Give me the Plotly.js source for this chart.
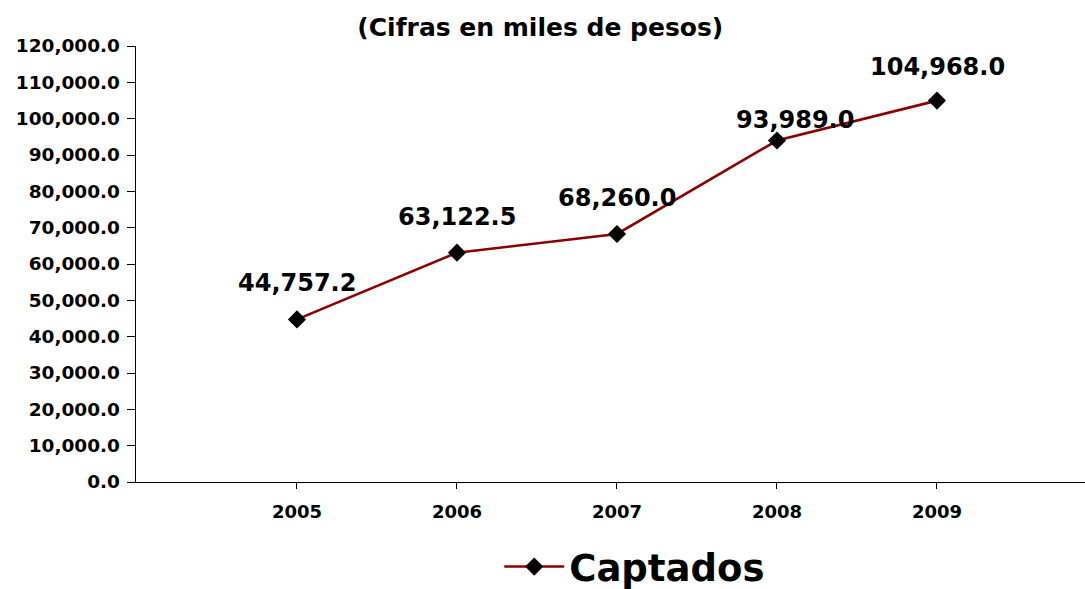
<!DOCTYPE html>
<html>
<head>
<meta charset="utf-8">
<script src="https://cdn.plot.ly/plotly-3.0.1.min.js"></script>
<style>html,body{margin:0;padding:0;background:#fff;}#chart{width:1085px;height:589px;}</style>
</head>
<body>
<div id="chart"></div>
<script>
const years = ['2005', '2006', '2007', '2008', '2009'];
const captados = [44757.2, 63122.5, 68260.0, 93989.0, 104968.0];
const labelText = ['44,757.2', '63,122.5', '68,260.0', '93,989.0', '104,968.0'];
const yTicks = [0, 10000, 20000, 30000, 40000, 50000, 60000, 70000, 80000, 90000, 100000, 110000, 120000];
const labelDx = [0, 0, 0, 18, 1];
const labelDy = [36, 36, 36, 21, 34];

const FONT = 'DejaVu Sans, Verdana, sans-serif';

const trace = {
  x: years.map((_, i) => i),
  y: captados,
  type: 'scatter',
  mode: 'lines+markers',
  name: '<b>Captados</b>',
  line: {color: '#8B0000', width: 2.6},
  marker: {symbol: 'diamond', size: 14, color: '#000000', line: {width: 0}},
  hoverinfo: 'skip'
};

const annotations = captados.map((v, i) => ({
  x: i, y: v, xref: 'x', yref: 'y',
  text: '<b>' + labelText[i] + '</b>',
  showarrow: false,
  xshift: labelDx[i], yshift: labelDy[i],
  font: {family: FONT, size: 24, color: '#000'}
}));

const layout = {
  width: 1085, height: 589,
  margin: {l: 136, r: 0, t: 46, b: 107},
  paper_bgcolor: '#fff', plot_bgcolor: '#fff',
  title: {
    text: '<b>(Cifras en miles de pesos)</b>',
    font: {family: FONT, size: 25, color: '#000'},
    x: 0.498, xref: 'container', xanchor: 'center',
    y: 1 - 27/589, yref: 'container', yanchor: 'middle'
  },
  showlegend: true,
  legend: {
    orientation: 'h',
    xref: 'container', yref: 'container',
    x: 0.585, xanchor: 'center', y: 1 - 567/589, yanchor: 'middle',
    font: {family: FONT, size: 37, color: '#000'},
    itemwidth: 60,
    bgcolor: 'rgba(0,0,0,0)'
  },
  xaxis: {
    type: 'linear',
    range: [-1.006, 4.925],
    tickvals: years.map((_, i) => i),
    ticktext: years.map(y => '<b>' + y + '</b>'),
    ticks: 'outside', ticklen: 6, tickcolor: '#000', tickwidth: 1,
    showline: true, linecolor: '#000', linewidth: 1.3,
    showgrid: false, zeroline: false,
    tickfont: {family: FONT, size: 18, color: '#000'},
    ticklabelstandoff: 7,
    fixedrange: true
  },
  yaxis: {
    range: [0, 120000],
    tickvals: yTicks,
    ticktext: yTicks.map(v => '<b>' + v.toLocaleString('en-US', {minimumFractionDigits: 1, maximumFractionDigits: 1}) + '</b>'),
    ticks: 'outside', ticklen: 8, tickcolor: '#000', tickwidth: 1,
    showline: true, linecolor: '#000', linewidth: 1.3,
    showgrid: false, zeroline: false,
    tickfont: {family: FONT, size: 18.5, color: '#000'},
    ticklabelstandoff: 3,
    fixedrange: true
  },
  annotations: annotations
};

Plotly.newPlot('chart', [trace], layout, {displayModeBar: false, staticPlot: true});
</script>
</body>
</html>
